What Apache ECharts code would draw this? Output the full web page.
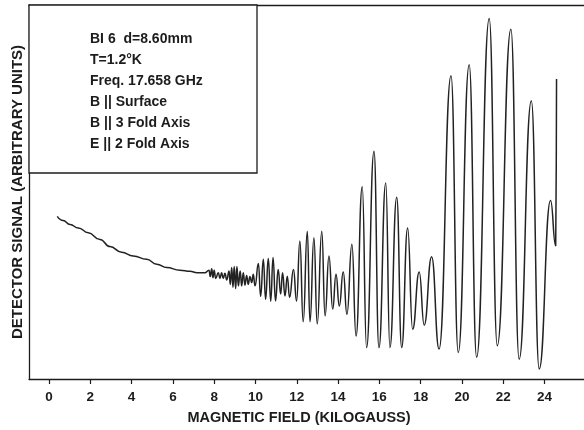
<!DOCTYPE html>
<html>
<head>
<meta charset="utf-8">
<script src="https://cdn.jsdelivr.net/npm/echarts@6/dist/echarts.min.js"></script>
<style>
html,body{margin:0;padding:0;background:#fff;}
#chart{width:584px;height:430px;}
</style>
</head>
<body>
<div id="chart"></div>
<script>
// Magnetic field (kilogauss)
var fieldKG = [
  0.40, 0.68, 1.02, 1.42, 1.90, 2.47, 2.95, 3.52, 4.08, 4.73, 5.22, 5.70, 6.34, 6.83, 7.17, 7.55,
  7.75, 7.81, 7.88, 7.94, 8.00, 8.07, 8.20, 8.28, 8.36, 8.44, 8.52, 8.61,
  8.72, 8.78, 8.85, 8.91, 8.97, 9.04, 9.10, 9.17,
  9.26, 9.33, 9.41, 9.49, 9.57, 9.65, 9.73, 9.82, 9.89, 9.98,
  10.14, 10.25, 10.38, 10.49, 10.62, 10.74, 10.85, 10.97,
  11.10, 11.22, 11.31, 11.43, 11.54, 11.65, 11.84, 11.99,
  12.15, 12.31, 12.51, 12.64, 12.83, 12.99, 13.21, 13.37, 13.56, 13.74, 13.90, 14.06, 14.25, 14.43,
  14.67, 14.87, 15.17, 15.38, 15.74, 15.98, 16.31, 16.51, 16.84, 17.08, 17.37, 17.61, 17.93, 18.17,
  18.53, 18.89, 19.47, 19.82, 20.35, 20.71, 21.32, 21.71, 22.37, 22.77, 23.36, 23.74, 24.29, 24.54, 24.58
];
// Detector signal (arbitrary units) at each field value
var signal = [
  43.5, 42.4, 41.3, 40.4, 39.1, 37.3, 35.4, 33.9, 32.9, 32.0, 30.7, 29.8, 29.1, 28.8, 28.4, 28.4,
  29.1, 27.4, 29.5, 27.1, 29.1, 26.9, 28.4, 26.9, 28.4, 26.9, 28.3, 26.5,
  28.9, 25.3, 29.8, 24.5, 30.1, 24.2, 30.1, 24.9,
  28.9, 24.9, 28.4, 25.1, 27.7, 25.3, 27.4, 25.8, 28.0, 24.9,
  30.9, 22.1, 32.0, 21.3, 32.2, 20.8, 32.5, 20.9,
  29.3, 22.7, 28.4, 22.2, 27.5, 21.8, 29.3, 20.8,
  36.9, 15.3, 39.5, 15.3, 37.8, 14.7, 39.5, 16.9, 32.9, 18.7, 28.0, 19.5, 28.6, 17.3,
  36.0, 11.5, 51.4, 8.4, 60.9, 8.4, 52.4, 8.4, 48.6, 8.4, 40.4, 13.3, 28.6, 14.4,
  32.7, 8.0, 81.1, 7.1, 84.0, 5.8, 96.4, 8.9, 93.5, 5.3, 74.4, 2.7, 47.7, 35.6, 80.2
];
var xTickValues = [0, 2, 4, 6, 8, 10, 12, 14, 16, 18, 20, 22, 24];
var infoLines = [
  'BI 6  d=8.60mm',
  'T=1.2\u00B0K',
  'Freq. 17.658 GHz',
  'B || Surface',
  'B || 3 Fold Axis',
  'E || 2 Fold Axis'
];

var points = fieldKG.map(function (x, i) { return [x, signal[i]]; });
var ink = '#1c1c1c';
var font = '"Liberation Sans", Arial, sans-serif';

var chart = echarts.init(document.getElementById('chart'), null, {renderer: 'canvas'});
chart.setOption({
  animation: false,
  backgroundColor: '#fff',
  grid: {left: 29, right: 0, top: 5, bottom: 50, containLabel: false},
  xAxis: [{
    type: 'value',
    min: -0.9685,
    max: 25.91,
    position: 'bottom',
    name: 'MAGNETIC FIELD (KILOGAUSS)',
    nameLocation: 'middle',
    nameGap: 31,
    nameTextStyle: {fontFamily: font, fontWeight: 'bold', fontSize: 14.5, color: ink, padding: [0, 15, 0, 0]},
    axisLine: {show: true, onZero: false, lineStyle: {color: ink, width: 1.3}},
    axisTick: {show: true, customValues: xTickValues, length: 5, inside: false, lineStyle: {color: ink, width: 1.2}},
    axisLabel: {show: true, customValues: xTickValues, margin: 11, fontFamily: font, fontWeight: 'bold', fontSize: 13.5, color: ink},
    splitLine: {show: false}
  }, {
    type: 'value',
    min: -0.9685,
    max: 25.91,
    position: 'top',
    axisLine: {show: true, onZero: false, lineStyle: {color: ink, width: 1.3}},
    axisTick: {show: false},
    axisLabel: {show: false},
    splitLine: {show: false}
  }],
  yAxis: {
    type: 'value',
    min: 0,
    max: 100,
    name: 'DETECTOR SIGNAL (ARBITRARY UNITS)',
    nameLocation: 'middle',
    nameGap: 4,
    nameTextStyle: {fontFamily: font, fontWeight: 'bold', fontSize: 15, color: ink},
    axisLine: {show: true, onZero: false, lineStyle: {color: ink, width: 1.3}},
    axisTick: {show: false},
    axisLabel: {show: false},
    splitLine: {show: false}
  },
  graphic: [{
    type: 'rect',
    shape: {x: 29, y: 5, width: 228, height: 168},
    style: {fill: '#fff', stroke: ink, lineWidth: 1.3},
    z: 10
  }, {
    type: 'text',
    left: 90,
    top: 29,
    z: 11,
    style: {
      text: infoLines.join('\n'),
      fontFamily: font,
      fontWeight: 'bold',
      fontSize: 14,
      lineHeight: 21,
      fill: ink
    }
  }],
  series: [{
    type: 'line',
    xAxisIndex: 0,
    data: points,
    showSymbol: false,
    smooth: 0.5,
    smoothMonotone: 'x',
    lineStyle: {color: '#222', width: 1.5},
    z: 2
  }]
});
</script>
</body>
</html>
